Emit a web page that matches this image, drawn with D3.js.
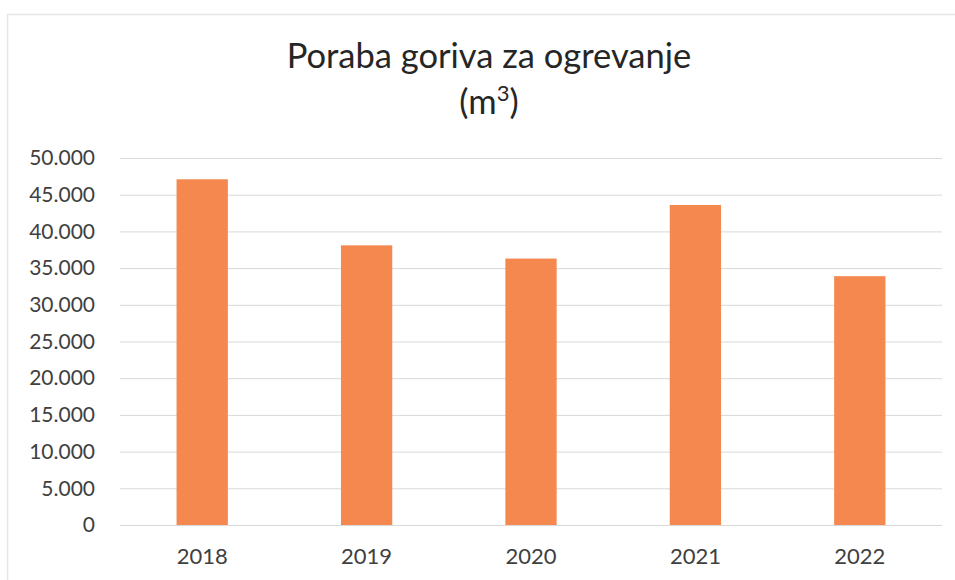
<!DOCTYPE html>
<html>
<head>
<meta charset="utf-8">
<script src="https://cdn.jsdelivr.net/npm/d3@7"></script>
<style>
  html, body { margin: 0; padding: 0; background: #fff; }
  svg { display: block; }
</style>
</head>
<body>
<svg id="chart" width="955" height="580"></svg>
<script>
const categories = ["2018", "2019", "2020", "2021", "2022"];
const values = [47100, 38100, 36300, 43600, 33900];
const tickValues = [0, 5000, 10000, 15000, 20000, 25000, 30000, 35000, 40000, 45000, 50000];
const tickLabels = ["0", "5.000", "10.000", "15.000", "20.000", "25.000", "30.000", "35.000", "40.000", "45.000", "50.000"];
const titleLine1 = "Poraba goriva za ogrevanje";

(function () {
const svg = d3.select("#chart");
const font = "Lato, 'Open Sans', sans-serif";

// chart border
svg.append("rect")
  .attr("x", 7.5).attr("y", 14.5)
  .attr("width", 960).attr("height", 600)
  .attr("fill", "none").attr("stroke", "#e6e6e6").attr("stroke-width", 1.5);

const pLeft = 120, pRight = 942, pTop = 158, pBottom = 525;

const x = d3.scaleBand().domain(categories).range([pLeft, pRight])
  .paddingInner(0.688).paddingOuter(0.344);
const y = d3.scaleLinear().domain([0, 50000]).range([pBottom, pTop]);

// gridlines
const yAxis = d3.axisLeft(y).tickValues(tickValues)
  .tickSize(-(pRight - pLeft))
  .tickFormat((d, i) => tickLabels[i]);
const gy = svg.append("g").attr("transform", `translate(${pLeft},0)`).call(yAxis);
gy.select(".domain").remove();
gy.selectAll(".tick line").attr("stroke", "#d9d9d9").attr("stroke-width", 1);
gy.selectAll(".tick text")
  .attr("x", -25)
  .attr("fill", "#404040")
  .style("font-family", font)
  .style("font-size", "21px");

// bars
svg.append("g").selectAll("rect").data(values).join("rect")
  .attr("x", (d, i) => x(categories[i]))
  .attr("y", d => y(d))
  .attr("width", x.bandwidth())
  .attr("height", d => y(0) - y(d))
  .attr("fill", "#f4884f");

// x axis labels
const xAxis = d3.axisBottom(x).tickSize(0).tickPadding(23);
const gx = svg.append("g").attr("transform", `translate(0,${pBottom})`).call(xAxis);
gx.select(".domain").remove();
gx.selectAll(".tick text")
  .attr("fill", "#404040")
  .style("font-family", font)
  .style("font-size", "22px");

// title
svg.append("text")
  .attr("x", 489).attr("y", 68)
  .attr("text-anchor", "middle")
  .attr("fill", "#262626")
  .style("font-family", font)
  .style("font-size", "34.5px")
  .text(titleLine1);

const t2 = svg.append("text")
  .attr("x", 489).attr("y", 114)
  .attr("text-anchor", "middle")
  .attr("fill", "#262626")
  .style("font-family", font)
  .style("font-size", "34.5px");
t2.append("tspan").text("(m");
t2.append("tspan").attr("dy", -13).style("font-size", "22px").text("3");
t2.append("tspan").attr("dy", 13).text(")");
})();
</script>
</body>
</html>
